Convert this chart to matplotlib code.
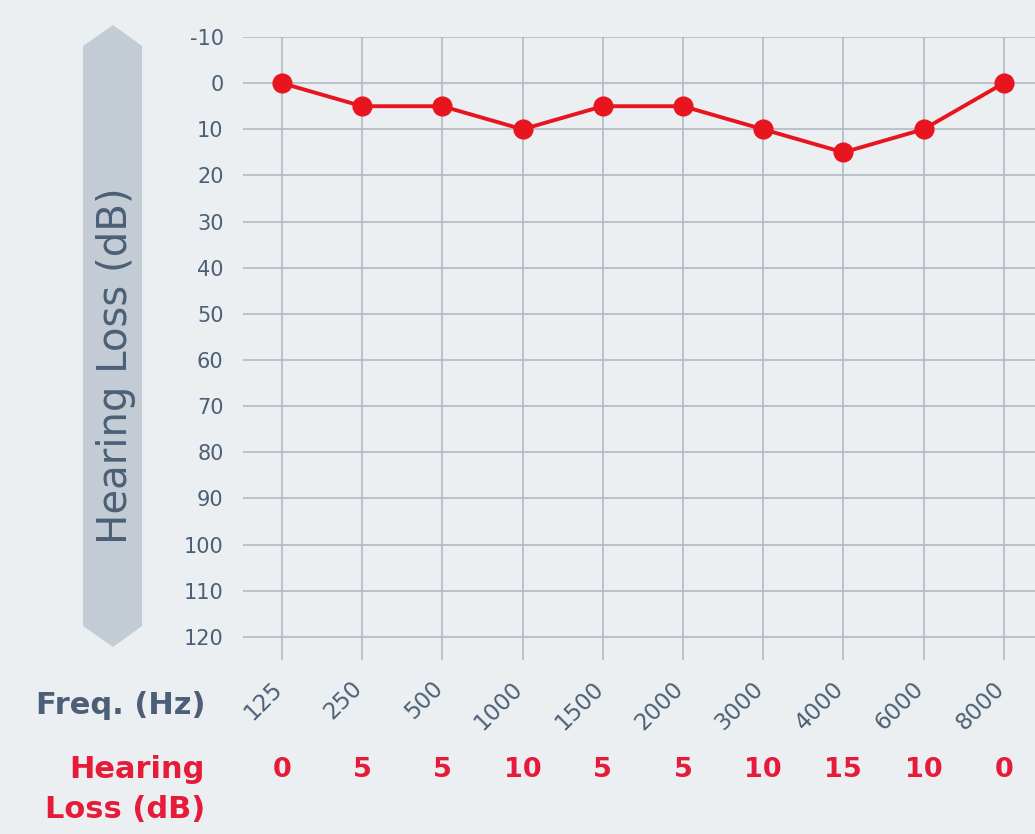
import matplotlib
matplotlib.use("Agg")
import matplotlib.pyplot as plt
from matplotlib.patches import Polygon
from matplotlib.transforms import blended_transform_factory

freqs = ["125", "250", "500", "1000", "1500", "2000", "3000", "4000", "6000", "8000"]
loss_db = [0, 5, 5, 10, 5, 5, 10, 15, 10, 0]
y_ticks = [-10, 0, 10, 20, 30, 40, 50, 60, 70, 80, 90, 100, 110, 120]

W, H = 1035, 834
BG = "#eceff2"
SLATE = "#4b5f76"
RED = "#e61b3a"
LINE_RED = "#e8141e"
GRID = "#b0bac6"

plt.rcParams['font.family'] = ['DejaVu Sans']

fig = plt.figure(figsize=(W / 100, H / 100), dpi=100, facecolor=BG)

def fx(px):
    return px / W

def fy(py):
    return 1 - py / H

ax_l, ax_r, ax_t, ax_b = 243, 1035, 37, 660
ax = fig.add_axes([fx(ax_l), fy(ax_b), fx(ax_r - ax_l), (ax_b - ax_t) / H])
ax.set_facecolor(BG)

x = list(range(len(freqs)))
ax.set_xlim(-0.486, 9.39)
ax.set_ylim(125, -10)

for yt in y_ticks:
    ax.axhline(yt, color=GRID, lw=1.2, zorder=1)
ax.vlines(x, -10, 125, color=GRID, lw=1.2, zorder=1)

ax.plot(x, loss_db, color=LINE_RED, lw=2.8, marker="o", markersize=13.5,
        zorder=3, clip_on=False)

for s in ax.spines.values():
    s.set_visible(False)
ax.set_xticks([])
ax.set_yticks(y_ticks)
ax.set_yticklabels([str(v) for v in y_ticks], color=SLATE, fontsize=15)
ax.tick_params(axis="y", length=0, pad=14)

# rotated frequency labels
tr = blended_transform_factory(ax.transData, fig.transFigure)
for xi, f in zip(x, freqs):
    ax.text(xi - 0.04, fy(685), f, transform=tr, rotation=45, ha="right",
            va="center", rotation_mode="anchor", color=SLATE, fontsize=16.5)

# hearing loss values row
for xi, v in zip(x, loss_db):
    ax.text(xi, fy(777), str(v), transform=tr, ha="center", va="baseline",
            color=RED, fontsize=19.5, fontweight="bold")

fig.text(fx(205), fy(714), "Freq. (Hz)", ha="right", va="baseline",
         color=SLATE, fontsize=22, fontweight="bold")
fig.text(fx(205), fy(778), "Hearing", ha="right", va="baseline",
         color=RED, fontsize=22, fontweight="bold")
fig.text(fx(205), fy(818), "Loss (dB)", ha="right", va="baseline",
         color=RED, fontsize=22, fontweight="bold")

# y-axis label badge
poly_px = [(113, 25), (142, 46), (142, 626), (113, 647), (83, 626), (83, 46)]
poly = Polygon([(fx(a), fy(b)) for a, b in poly_px], closed=True,
               transform=fig.transFigure, facecolor="#c3cbd4", edgecolor="none")
fig.patches.append(poly)
fig.text(fx(116), fy(366), "Hearing Loss (dB)", rotation=90, ha="center",
         va="center", color=SLATE, fontsize=29)

fig.savefig("out.png", dpi=100, facecolor=BG)
